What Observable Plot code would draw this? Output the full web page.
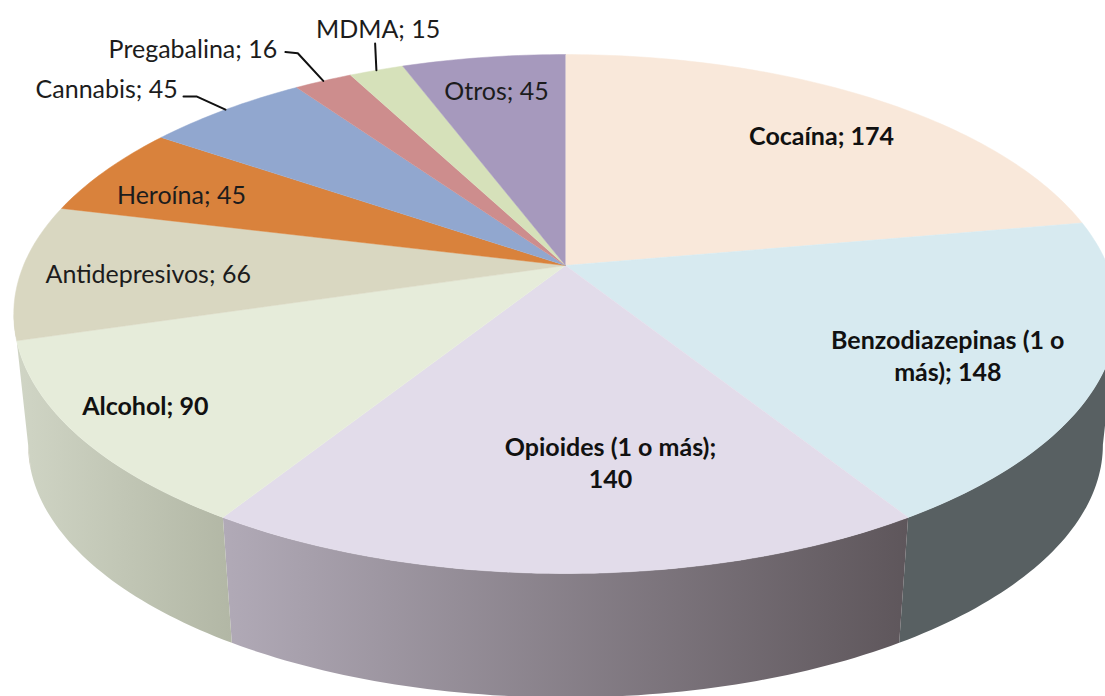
<!DOCTYPE html>
<html lang="es">
<head>
<meta charset="utf-8">
<script src="https://cdn.jsdelivr.net/npm/d3@7"></script>
<script src="https://cdn.jsdelivr.net/npm/@observablehq/plot@0.6"></script>
<style>
html,body{margin:0;padding:0;background:#fff;overflow:hidden}
svg{display:block}
</style>
</head>
<body>
<div id="chart"></div>
<script>
const categories = ["Cocaína","Benzodiazepinas (1 o más)","Opioides (1 o más)","Alcohol","Antidepresivos","Heroína","Cannabis","Pregabalina","MDMA","Otros"];
const values = [174,148,140,90,66,45,45,16,15,45];
const topColors = ["#f9e8da","#d7eaf0","#e2dcea","#e6ecda","#d9d7c1","#d9823c","#91a7cf","#cd8d8d","#d6e1ba","#a699bd"];
const wallColors = ["#b9ab9f","#586062","url(#wallOpioid)","url(#wallAlcohol)","#c7c6b4","#a0602c","#6c7c9a","#996868","#9fa78a","#7b7290"];
const boldLabels = [true,true,true,true,false,false,false,false,false,false];
const labelText = ["Cocaína; 174","Benzodiazepinas (1 o\nmás); 148","Opioides (1 o más);\n140","Alcohol; 90","Antidepresivos; 66","Heroína; 45","Cannabis; 45","Pregabalina; 16","MDMA; 15","Otros; 45"];
// label placement, polar, relative to the middle of each slice
const labelRadius = [.773,.743,.692,.867,.766,.806,1.271,1.32,1.221,.817];
const labelShift = [2.6,3.4,-6,1.2,-1,-2.3,-4.9,-7.2,4.0,0];
// leader lines, polar, relative to the middle of the slice
const leaders = {6:[[1.117,-1],[1.096,0],[1.0,0]],7:[[1.186,0],[1.166,1],[1.0,0]],8:[[1.1435,2.5],[1.0,0]]};

const persp = .187, rimScale = .974, rimDrop = .527;
const total = d3.sum(values);
let acc = 0;
const slices = values.map((v,i)=>{const a0=acc/total*360; acc+=v; return {i,a0,a1:acc/total*360,mid:(a0+v/total*180)};});

// perspective projection of a point of the disc (r, deg clockwise from the top)
function proj(r,deg){
  const t=deg*Math.PI/180,u=r*Math.sin(t),v=r*Math.cos(t),w=1+persp*v;
  return {x:u/w,y:v/w};
}
const rim = p=>({x:p.x*rimScale,y:p.y*rimScale-rimDrop});
const arc = (a0,a1)=>d3.range(0,1.0001,1/Math.max(2,Math.ceil(Math.abs(a1-a0)))).map(f=>proj(1,a0+(a1-a0)*f));

const faces = slices.map(s=>[proj(0,0),...arc(s.a0,s.a1)]);
// the wall shows only between the two silhouette angles of the disc
const silhouette = Math.acos(-persp)*180/Math.PI;
const walls = slices.map(s=>{
  const a0=Math.max(s.a0,silhouette),a1=Math.min(s.a1,360-silhouette);
  if(a1<=a0) return null;
  const top=arc(a0,a1);
  return {i:s.i,pts:[...top,...top.slice().reverse().map(rim)]};
}).filter(Boolean);

const labels = slices.map(s=>({...proj(labelRadius[s.i],s.mid+labelShift[s.i]),txt:labelText[s.i],bold:boldLabels[s.i]}));

function gradientDefs(){
  const ns="http://www.w3.org/2000/svg";
  const defs=document.createElementNS(ns,"defs");
  const add=(id,stops)=>{
    const g=document.createElementNS(ns,"linearGradient");
    g.setAttribute("id",id);g.setAttribute("x1","0");g.setAttribute("x2","1");g.setAttribute("y1","0");g.setAttribute("y2","0");
    stops.forEach(([o,c])=>{const st=document.createElementNS(ns,"stop");st.setAttribute("offset",o);st.setAttribute("stop-color",c);g.appendChild(st);});
    defs.appendChild(g);
  };
  add("wallOpioid",[[0,"#b1aab7"],[1,"#5e565b"]]);
  add("wallAlcohol",[[0,"#d0d5c5"],[1,"#b2b7a5"]]);
  return defs;
}

const chart = Plot.plot({
  width:1105,height:696,margin:0,
  x:{domain:[-1,1],range:[23,1107],axis:null},
  y:{domain:[1,-1],range:[14.6,515.4],axis:null},
  marks:[
    gradientDefs,
    ...walls.map(w=>Plot.line(w.pts,{x:"x",y:"y",fill:wallColors[w.i],stroke:"none"})),
    ...slices.map(s=>Plot.line(faces[s.i],{x:"x",y:"y",fill:topColors[s.i],stroke:topColors[s.i],strokeWidth:.5})),
    ...Object.entries(leaders).map(([i,pts])=>Plot.line(pts.map(([r,sh])=>proj(r,slices[i].mid+sh)),{x:"x",y:"y",stroke:"#111",strokeWidth:2})),
    Plot.text(labels.filter(d=>!d.bold),{x:"x",y:"y",text:"txt",fontSize:25,fontFamily:"Lato",fill:"#1c1c1c",lineHeight:1.28,dy:-1}),
    Plot.text(labels.filter(d=>d.bold),{x:"x",y:"y",text:"txt",fontSize:25,fontFamily:"Lato",fontWeight:"bold",fill:"#111",lineHeight:1.28,dy:-2})
  ]
});
document.getElementById("chart").appendChild(chart);
</script>
</body>
</html>
